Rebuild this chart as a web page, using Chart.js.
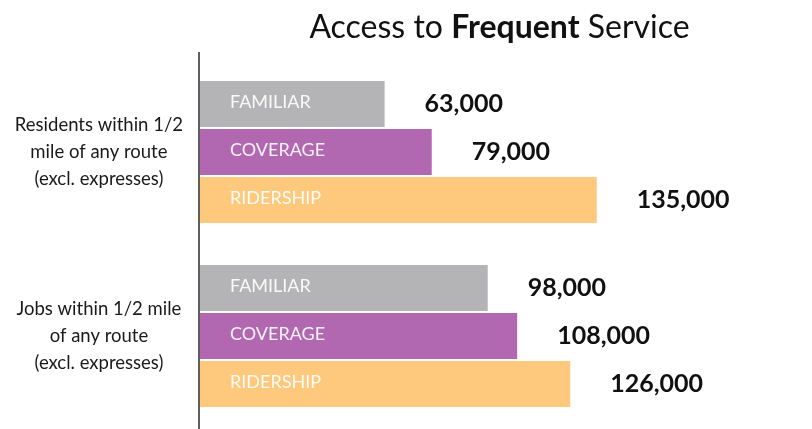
<!DOCTYPE html>
<html>
<head>
<meta charset="utf-8">
<script src="https://cdn.jsdelivr.net/npm/chart.js@4/dist/chart.umd.min.js"></script>
<style>
  html, body { margin: 0; padding: 0; background: #ffffff; overflow: hidden; }
  #wrap { position: relative; width: 812px; height: 429px; }
</style>
</head>
<body>
<div id="wrap"><canvas id="c"></canvas></div>
<script>
// Categories (multi-line axis labels), series and values
const categories = [
  ['Residents within 1/2', 'mile of any route', '(excl. expresses)'],
  ['Jobs within 1/2 mile', 'of any route', '(excl. expresses)']
];
const seriesNames = ['FAMILIAR', 'COVERAGE', 'RIDERSHIP'];
const familiar = [63000, 98000];
const coverage = [79000, 108000];
const ridership = [135000, 126000];
const seriesColors = ['#b4b4b6', '#b267b1', '#fec97c'];

const FONT = 'Lato, "Open Sans", sans-serif';

// Title with a bold middle word, centred over the plot area
const titlePlugin = {
  id: 'mixedTitle',
  afterDraw(chart) {
    const ctx = chart.ctx;
    const parts = [
      { text: 'Access to ', weight: '400' },
      { text: 'Frequent', weight: '700' },
      { text: ' Service', weight: '400' }
    ];
    ctx.save();
    let total = 0;
    parts.forEach(p => {
      ctx.font = p.weight + ' 32px ' + FONT;
      p.w = ctx.measureText(p.text).width;
      total += p.w;
    });
    const area = chart.chartArea;
    let x = (area.left + area.right) / 2 - total / 2;
    ctx.fillStyle = '#111111';
    ctx.textBaseline = 'alphabetic';
    ctx.textAlign = 'left';
    parts.forEach(p => {
      ctx.font = p.weight + ' 32px ' + FONT;
      ctx.fillText(p.text, x, 38);
      x += p.w;
    });
    ctx.restore();
  }
};

// Vertical axis line running a little above the plot area
const axisLinePlugin = {
  id: 'axisLine',
  afterDatasetsDraw(chart) {
    const ctx = chart.ctx;
    const area = chart.chartArea;
    ctx.save();
    ctx.strokeStyle = '#5f5f5f';
    ctx.lineWidth = 2;
    ctx.beginPath();
    ctx.moveTo(area.left, area.top - 8);
    ctx.lineTo(area.left, area.bottom + 1);
    ctx.stroke();
    ctx.restore();
  }
};

// Series name inside each bar, value to the right of it
const barLabelPlugin = {
  id: 'barLabels',
  afterDatasetsDraw(chart) {
    const ctx = chart.ctx;
    ctx.save();
    chart.data.datasets.forEach((ds, i) => {
      const meta = chart.getDatasetMeta(i);
      meta.data.forEach((bar, j) => {
        ctx.textBaseline = 'middle';
        ctx.textAlign = 'left';
        ctx.font = '400 18px ' + FONT;
        ctx.fillStyle = 'rgba(255,255,255,0.92)';
        ctx.fillText(ds.label, bar.base + 31, bar.y - 2);
        ctx.font = '700 25px ' + FONT;
        ctx.fillStyle = '#111111';
        ctx.fillText(ds.data[j].toLocaleString('en-US'), bar.x + 40, bar.y);
      });
    });
    ctx.restore();
  }
};

const seriesData = [familiar, coverage, ridership];

new Chart(document.getElementById('c'), {
  type: 'bar',
  data: {
    labels: categories,
    datasets: seriesNames.map((name, i) => ({
      label: name,
      data: seriesData[i],
      backgroundColor: seriesColors[i],
      borderWidth: 0,
      categoryPercentage: 0.783,
      barPercentage: 0.96
    }))
  },
  options: {
    indexAxis: 'y',
    responsive: true,
    maintainAspectRatio: false,
    animation: false,
    layout: { padding: { top: 60, right: 12, left: 0, bottom: 1 } },
    plugins: {
      legend: { display: false },
      title: { display: false },
      tooltip: { enabled: false }
    },
    scales: {
      x: { display: false, min: 0, max: 204000 },
      y: {
        grid: { display: false, drawTicks: false },
        border: { display: false },
        ticks: {
          crossAlign: 'center',
          padding: 16,
          color: '#1a1a1a',
          font: { family: FONT, size: 18.5, lineHeight: 1.45 }
        },
        afterFit(scale) {
          scale.width = 199;
          // labels sit at slot centres, so no extra room is needed above/below
          scale.paddingTop = 0;
          scale.paddingBottom = 0;
        }
      }
    }
  },
  plugins: [axisLinePlugin, barLabelPlugin, titlePlugin]
});
</script>
</body>
</html>
